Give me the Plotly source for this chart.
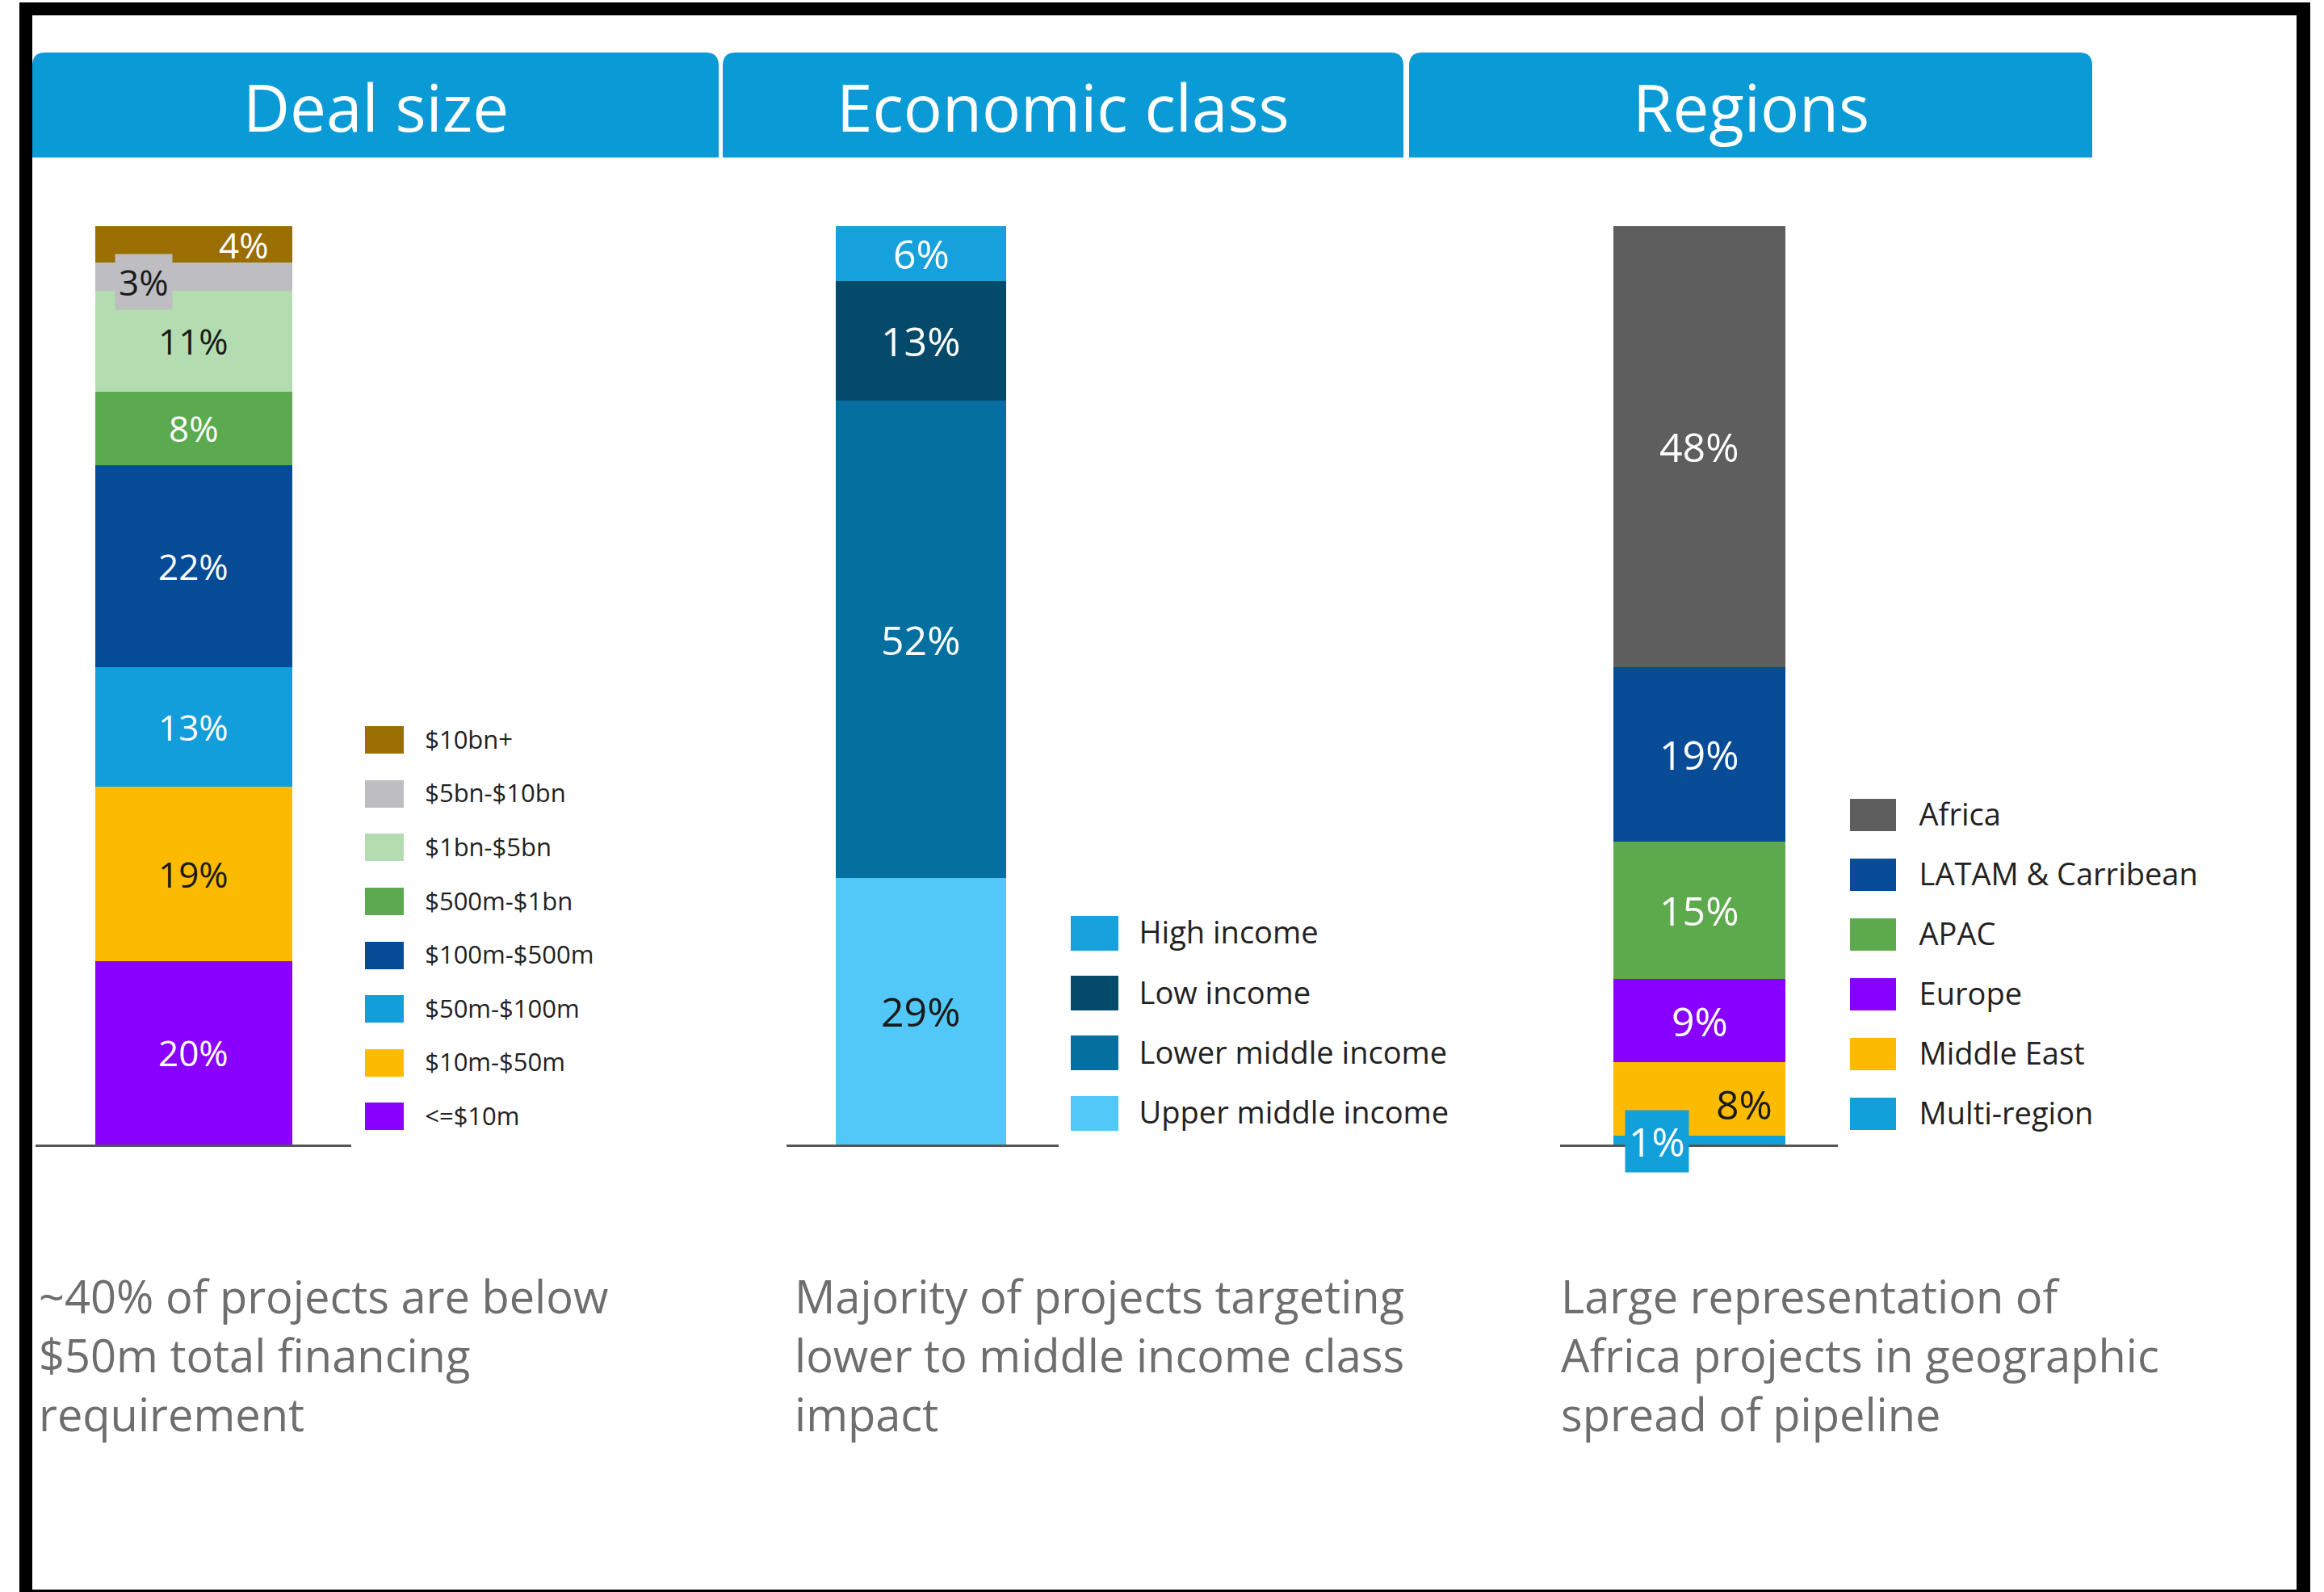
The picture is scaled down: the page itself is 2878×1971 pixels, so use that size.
import plotly.graph_objects as go

W, H = 2878, 1971

# ---- data (legend order, top to bottom) ----
panel_titles = ['Deal size', 'Economic class', 'Regions']

deal_labels = ['$10bn+', '$5bn-$10bn', '$1bn-$5bn', '$500m-$1bn',
               '$100m-$500m', '$50m-$100m', '$10m-$50m', '&lt;=$10m']
deal_values = [4, 3, 11, 8, 22, 13, 19, 20]

econ_labels = ['High income', 'Low income', 'Lower middle income', 'Upper middle income']
econ_values = [6, 13, 52, 29]

region_labels = ['Africa', 'LATAM & Carribean', 'APAC', 'Europe', 'Middle East', 'Multi-region']
region_values = [48, 19, 15, 9, 8, 1]

notes = [
    '~40% of projects are below<br>$50m total financing<br>requirement',
    'Majority of projects targeting<br>lower to middle income class<br>impact',
    'Large representation of<br>Africa projects in geographic<br>spread of pipeline',
]

# ---- styles ----
deal_colors = ['#9A6E00', '#BDBDC2', '#B3DDB0', '#5BAA4F',
               '#064B96', '#119EDA', '#FDBB00', '#8A00FF']
econ_colors = ['#16A0DC', '#05496B', '#05709F', '#52C8F8']
region_colors = ['#5E5E5E', '#084C97', '#5CAA4C', '#8800FF', '#FDBB00', '#12A0DB']

DARK = '#1a1a1a'
deal_txt = ['white', DARK, DARK, 'white', 'white', 'white', DARK, 'white']
econ_txt = ['white', 'white', 'white', DARK]
region_txt = ['white', 'white', 'white', 'white', DARK, 'white']

# special label placements: index -> dict(xshift, yshift, bgcolor)
deal_special = {0: dict(xshift=62), 1: dict(xshift=-62, yshift=-6, bgcolor='#BDBDC2')}
econ_special = {}
region_special = {4: dict(xshift=55, yshift=-7), 5: dict(xshift=-53, yshift=-2, bgcolor='#12A0DB')}

FONT = 'Open Sans'


def px(x):
    return x / W


def py(y):
    return 1 - y / H


# pixel geometry per panel
panels = [
    dict(labels=deal_labels, values=deal_values, colors=deal_colors, txt=deal_txt,
         special=deal_special, bar=(117.5, 362), base=(44, 435), lfs=44,
         leg_x=(452, 500), leg_y=(882.7, 1415.3), leg_w=0.51, leg_std=19, leg_fs=31,
         header=(40, 890), note_x=46),
    dict(labels=econ_labels, values=econ_values, colors=econ_colors, txt=econ_txt,
         special=econ_special, bar=(1035, 1246), base=(974, 1311), lfs=50,
         leg_x=(1326, 1385), leg_y=(1117.8, 1415.2), leg_w=0.58, leg_std=17, leg_fs=38,
         header=(895, 1738), note_x=982),
    dict(labels=region_labels, values=region_values, colors=region_colors, txt=region_txt,
         special=region_special, bar=(1998, 2211), base=(1932, 2276), lfs=50,
         leg_x=(2291, 2348), leg_y=(972, 1416), leg_w=0.55, leg_std=20, leg_fs=38,
         header=(1745, 2591), note_x=1931),
]

BAR_TOP, BAR_BOT = 280, 1417

fig = go.Figure()
annotations = []
shapes = []
layout_axes = {}

for i, p in enumerate(panels):
    n = i + 1
    sx = '' if n == 1 else str(n)
    ln = n + 3
    labels, values = p['labels'], p['values']

    # stacked bar: bottom segment is last in legend order
    cum = 0
    for j in reversed(range(len(labels))):
        v = values[j]
        fig.add_trace(go.Bar(
            x=[0], y=[v], width=1, marker=dict(color=p['colors'][j], line=dict(width=0)),
            name=labels[j], xaxis='x' + sx, yaxis='y' + sx, hoverinfo='skip',
        ))
        sp = p['special'].get(j, {})
        ann = dict(
            x=0, y=cum + v / 2, xref='x' + sx, yref='y' + sx, text=f'{v}%',
            xanchor='center', yanchor='middle', showarrow=False,
            font=dict(family=FONT, size=p['lfs'], color=p['txt'][j]),
            xshift=sp.get('xshift', 0), yshift=sp.get('yshift', 0),
        )
        if 'bgcolor' in sp:
            ann.update(bgcolor=sp['bgcolor'], borderpad=4)
        annotations.append(ann)
        cum += v

    b0, b1 = p['bar']
    unit = b1 - b0
    l0, l1 = p['base']
    layout_axes['xaxis' + sx] = dict(
        domain=[px(l0), px(l1)], anchor='y' + sx,
        range=[-0.5 - (b0 - l0) / unit, 0.5 + (l1 - b1) / unit],
        showline=True, linecolor='#555555', linewidth=3,
        showticklabels=False, showgrid=False, zeroline=False, ticks='', fixedrange=True,
    )
    layout_axes['yaxis' + sx] = dict(
        domain=[py(BAR_BOT), py(BAR_TOP)], anchor='x' + sx, range=[0, 100],
        visible=False, fixedrange=True,
    )

    # legend built as a small bar chart with labels on the right axis
    fig.add_trace(go.Bar(
        x=[1] * len(labels), y=labels, orientation='h', width=p['leg_w'],
        marker=dict(color=p['colors'], line=dict(width=0)),
        xaxis=f'x{ln}', yaxis=f'y{ln}', hoverinfo='skip',
    ))
    lx0, lx1 = p['leg_x']
    ly0, ly1 = p['leg_y']
    layout_axes[f'xaxis{ln}'] = dict(
        domain=[px(lx0), px(lx1)], anchor=f'y{ln}', range=[0, 1], visible=False,
        fixedrange=True,
    )
    layout_axes[f'yaxis{ln}'] = dict(
        domain=[py(ly1), py(ly0)], anchor=f'x{ln}', type='category',
        range=[len(labels) - 0.5, -0.5], side='right',
        showline=False, showgrid=False, zeroline=False, fixedrange=True,
        ticks='outside', ticklen=p['leg_std'], tickcolor='rgba(0,0,0,0)',
        tickfont=dict(family=FONT, size=p['leg_fs'], color='#222222'),
    )

    # header band with rounded top corners
    h0, h1 = p['header']
    x0, x1 = px(h0), px(h1)
    ya, yb = py(195), py(65)
    rx, ry = 16 / W, 16 / H
    shapes.append(dict(
        type='path', xref='paper', yref='paper', fillcolor='#0A9BD7', line=dict(width=0),
        path=(f'M{x0},{ya} L{x0},{yb - ry} Q{x0},{yb} {x0 + rx},{yb} '
              f'L{x1 - rx},{yb} Q{x1},{yb} {x1},{yb - ry} L{x1},{ya} Z'),
    ))
    annotations.append(dict(
        x=(x0 + x1) / 2, y=py(131), xref='paper', yref='paper', text=panel_titles[i],
        xanchor='center', yanchor='middle', showarrow=False,
        font=dict(family=FONT, size=80, color='white'),
    ))

    # note underneath
    annotations.append(dict(
        x=px(p['note_x']), y=py(1677), xref='paper', yref='paper', text=notes[i],
        showarrow=False, xanchor='left', yanchor='middle', align='left',
        font=dict(family=FONT, size=56, color='#6E6E6E'),
    ))

# black frame
for (a, b, c, d) in [(24, 3, 2861, 19), (24, 3, 40, 1971), (2844, 3, 2861, 1971), (24, 1968, 2861, 1971)]:
    shapes.append(dict(type='rect', xref='paper', yref='paper',
                       x0=px(a), x1=px(c), y0=py(d), y1=py(b),
                       fillcolor='black', line=dict(width=0), layer='above'))

fig.update_layout(
    width=W, height=H, margin=dict(l=0, r=0, t=0, b=0),
    paper_bgcolor='white', plot_bgcolor='white',
    barmode='stack', bargap=0, showlegend=False,
    annotations=annotations, shapes=shapes,
    font=dict(family=FONT),
    **layout_axes,
)

fig.write_html('out.html', config={'displayModeBar': False},
               post_script="document.body.style.margin='0';")
